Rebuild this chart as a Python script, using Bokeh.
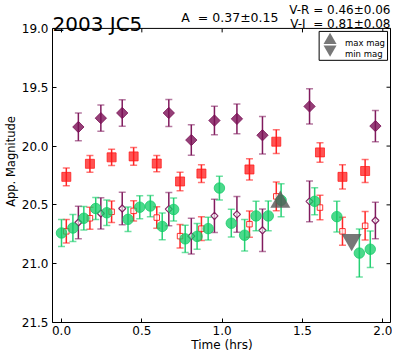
import math
from bokeh.plotting import figure
from bokeh.models import Range1d, FixedTicker, Label, PrintfTickFormatter
from bokeh.embed import file_html
from bokeh.resources import INLINE

# ---- data ----
# R-band epochs (hrs): filled = R mag, open = R reduced to V
t_r = [0.030, 0.177, 0.312, 0.449, 0.593, 0.738, 0.871, 1.170, 1.337, 1.609, 1.749, 1.890]
r_mag = [20.262, 20.151, 20.096, 20.088, 20.149, 20.301, 20.234, 20.199, 19.963, 20.054, 20.262, 20.212]
r_err = [0.076, 0.071, 0.069, 0.075, 0.069, 0.079, 0.076, 0.090, 0.101, 0.083, 0.104, 0.097]
r_as_v = [20.725, 20.614, 20.559, 20.551, 20.608, 20.766, 20.702, 20.664, 20.428, 20.523, 20.725, 20.678]
r_as_v_err = [0.100, 0.094, 0.091, 0.087, 0.091, 0.100, 0.101, 0.111, 0.122, 0.104, 0.119, 0.121]

# I-band epochs (hrs): filled = I mag, open = I reduced to V
t_i = [0.105, 0.245, 0.378, 0.668, 0.808, 0.952, 1.092, 1.251, 1.544, 1.954]
i_mag = [19.838, 19.763, 19.719, 19.719, 19.949, 19.783, 19.769, 19.908, 19.663, 19.830]
i_err = [0.118, 0.111, 0.112, 0.115, 0.129, 0.122, 0.127, 0.160, 0.150, 0.133]
i_as_v = [20.650, 20.573, 20.531, 20.536, 20.766, 20.594, 20.581, 20.716, 20.470, 20.633]
i_as_v_err = [0.139, 0.133, 0.139, 0.141, 0.152, 0.141, 0.152, 0.180, 0.173, 0.155]

# V-band
t_v = [0.000, 0.071, 0.139, 0.213, 0.282, 0.414, 0.487, 0.553, 0.627, 0.698, 0.770, 0.844,
       0.913, 0.983, 1.057, 1.140, 1.211, 1.287, 1.367, 1.576, 1.714, 1.854, 1.922]
v_mag = [20.739, 20.697, 20.614, 20.531, 20.567, 20.623, 20.520, 20.510, 20.683, 20.539, 20.789, 20.768,
         20.702, 20.357, 20.656, 20.758, 20.594, 20.594, 20.461, 20.470, 20.600, 20.910, 20.877]
v_err = [0.114, 0.115, 0.100, 0.094, 0.108, 0.104, 0.097, 0.090, 0.114, 0.098, 0.115, 0.110,
         0.097, 0.101, 0.118, 0.134, 0.125, 0.127, 0.141, 0.115, 0.130, 0.204, 0.155]

max_t = [1.362]
max_mag = [20.475]
min_t = [1.806]
min_mag = [20.797]

x_ticks = [0.0, 0.5, 1.0, 1.5, 2.0]
y_ticks = [19.0, 19.5, 20.0, 20.5, 21.0, 21.5]

title_text = "2003 JC5"
amp_text = "A\u00a0 = 0.37\u00b10.15"
vr_text = "V-R = 0.46\u00b10.06"
vi_text = "V-I\u00a0 = 0.81\u00b10.08"
legend_labels = ["max mag", "min mag"]

# ---- layout ----
FONT = "DejaVu Sans"
W, H = 392, 354
B_LEFT, B_RIGHT, B_BOTTOM = 49, 1, 31
BOX_TOP_PX = 28            # pixel row of the plot box top inside the (taller) frame
X_LO, X_BOX_R = -0.056, 2.048
Y_LO, Y_HI = 21.5, 19.0
frame_w = W - B_LEFT - B_RIGHT
frame_h = H - B_BOTTOM
x_per_px = (X_BOX_R - X_LO) / (frame_w - 1)
y_per_px = (Y_LO - Y_HI) / (frame_h - BOX_TOP_PX)
X_HI = X_LO + frame_w * x_per_px
Y_TOP = Y_HI - BOX_TOP_PX * y_per_px


def px_x(px):
    return X_LO + (px - B_LEFT) * x_per_px


def px_y(py):
    return Y_HI + (py - BOX_TOP_PX) * y_per_px


p = figure(width=W, height=H, x_range=Range1d(X_LO, X_HI), y_range=Range1d(Y_LO, Y_TOP),
           output_backend="svg", toolbar_location=None,
           min_border_left=B_LEFT, min_border_right=B_RIGHT, min_border_top=0, min_border_bottom=B_BOTTOM)
p.xgrid.visible = False
p.ygrid.visible = False
p.outline_line_color = None
p.background_fill_color = "white"
p.border_fill_color = "white"

for ax in (p.xaxis[0], p.yaxis[0]):
    ax.major_tick_in = 4
    ax.major_tick_out = 0
    ax.minor_tick_line_color = None
    ax.axis_line_color = "black"
    ax.major_tick_line_color = "black"
    ax.major_label_text_font = FONT
    ax.major_label_text_font_size = "12px"
    ax.major_label_text_color = "black"
    ax.axis_label_text_font = FONT
    ax.axis_label_text_font_style = "normal"
    ax.axis_label_text_color = "black"
p.xaxis.ticker = FixedTicker(ticks=x_ticks)
p.yaxis.ticker = FixedTicker(ticks=y_ticks)
p.xaxis.bounds = (X_LO, X_BOX_R)
p.yaxis.bounds = (Y_HI, Y_LO)
p.xaxis.formatter = PrintfTickFormatter(format="%.1f")
p.yaxis.formatter = PrintfTickFormatter(format="%.1f")
p.xaxis.axis_label = "Time (hrs)"
p.yaxis.axis_label = "App. Magnitude"
p.xaxis.axis_label_text_font_size = "12px"
p.yaxis.axis_label_text_font_size = "11.5px"
p.xaxis.major_label_standoff = 3
p.yaxis.major_label_standoff = 4
p.xaxis.axis_label_standoff = 0
p.yaxis.axis_label_standoff = 1

# plot box (top and right edges) and mirrored inner ticks
p.quad(left=[X_LO], right=[X_BOX_R], top=[Y_HI], bottom=[Y_LO], fill_color=None,
       line_color="black", line_width=1)
p.scatter([X_BOX_R - 2 * x_per_px] * len(y_ticks), y_ticks, marker="dash", size=4,
          line_color="black", line_width=1)
p.scatter(x_ticks, [Y_HI + 2 * y_per_px] * len(x_ticks), marker="dash", angle=math.pi / 2, size=4,
          line_color="black", line_width=1)


def errorbars(t, m, e, color, bar_alpha, cap_alpha, lw=1.5, cap=7):
    lo = [a - b for a, b in zip(m, e)]
    hi = [a + b for a, b in zip(m, e)]
    p.segment(x0=t, y0=lo, x1=t, y1=hi, line_color=color, line_width=lw, line_alpha=bar_alpha)
    p.scatter(t, lo, marker="dash", size=cap, line_color=color, line_width=lw, line_alpha=cap_alpha)
    p.scatter(t, hi, marker="dash", size=cap, line_color=color, line_width=lw, line_alpha=cap_alpha)


PURPLE = "#7a0f55"
RED = "#ff1a1a"
GREEN = "#10cc66"
GRAY = "#555555"

# I band filled diamonds
errorbars(t_i, i_mag, i_err, PURPLE, 0.95, 0.55)
p.scatter(t_i, i_mag, marker="square", angle=math.pi / 4, size=8, fill_color=PURPLE, fill_alpha=0.8,
          line_color=PURPLE, line_alpha=0.8)

# R band filled squares
errorbars(t_r, r_mag, r_err, RED, 0.95, 0.6)
p.scatter(t_r, r_mag, marker="square", size=9, fill_color=RED, fill_alpha=0.75, line_color=RED, line_alpha=0.75)

# R reduced to V, open squares
errorbars(t_r, r_as_v, r_as_v_err, RED, 0.95, 0.6)
p.scatter(t_r, r_as_v, marker="square", size=5.5, fill_color="white", fill_alpha=0.6, line_color=RED,
          line_width=1, line_alpha=0.9)

# I reduced to V, open diamonds
errorbars(t_i, i_as_v, i_as_v_err, PURPLE, 0.95, 0.55)
p.scatter(t_i, i_as_v, marker="square", angle=math.pi / 4, size=5, fill_color="white", fill_alpha=0.6,
          line_color=PURPLE, line_width=1.2, line_alpha=0.9)

# V band circles
errorbars(t_v, v_mag, v_err, GREEN, 0.9, 0.6)
p.scatter(t_v, v_mag, marker="circle", size=10.5, fill_color=GREEN, fill_alpha=0.75, line_color=GREEN,
          line_alpha=0.75)

# max / min magnitude markers
p.scatter(max_t, max_mag, marker="triangle", size=20, fill_color=GRAY, fill_alpha=0.8, line_color=None)
p.scatter(min_t, min_mag, marker="inverted_triangle", size=20, fill_color=GRAY, fill_alpha=0.8,
          line_color=None)

# legend (manual box in the upper right corner)
p.quad(left=[px_x(318)], right=[px_x(387)], top=[px_y(31)], bottom=[px_y(60)], fill_color="white",
       line_color="black", line_width=1)
p.scatter([px_x(329)], [px_y(39.8)], marker="triangle", size=13, fill_color=GRAY, fill_alpha=0.8,
          line_color=None)
p.scatter([px_x(329)], [px_y(48.8)], marker="inverted_triangle", size=13, fill_color=GRAY, fill_alpha=0.8,
          line_color=None)
for lab, py in zip(legend_labels, (42.5, 53.5)):
    p.add_layout(Label(x=px_x(344), y=px_y(py), text=lab, text_font=FONT, text_font_size="8.5px",
                       text_color="black", text_baseline="alphabetic"))

# header texts
p.add_layout(Label(x=px_x(49), y=px_y(24), text=title_text, text_font=FONT, text_font_size="20px",
                   text_color="black", text_baseline="alphabetic"))
p.add_layout(Label(x=px_x(179), y=px_y(17.5), text=amp_text, text_font=FONT, text_font_size="12.5px",
                   text_color="black", text_baseline="alphabetic"))
p.add_layout(Label(x=px_x(390), y=px_y(9.5), text=vr_text, text_font=FONT, text_font_size="12px",
                   text_color="black", text_baseline="alphabetic", text_align="right"))
p.add_layout(Label(x=px_x(390), y=px_y(23.3), text=vi_text, text_font=FONT, text_font_size="12px",
                   text_color="black", text_baseline="alphabetic", text_align="right"))

open("out.html", "w").write(file_html(p, INLINE))
